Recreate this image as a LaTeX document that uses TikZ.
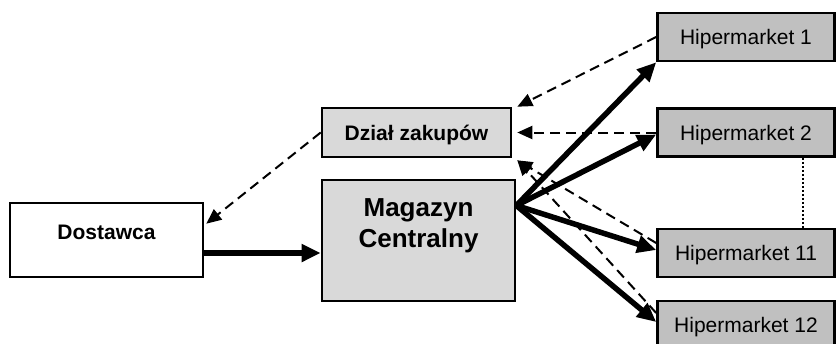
\documentclass[tikz,border=0pt]{standalone}
\usepackage{fontspec}
\setmainfont{Liberation Sans}
\usetikzlibrary{arrows.meta,positioning}
\definecolor{hipgray}{RGB}{192,192,192}
\definecolor{paleg}{RGB}{217,217,217}

\begin{document}
\begin{tikzpicture}[x=1pt,y=-1pt,
  box/.style={draw,line width=2.6pt,inner sep=0pt,text height=15pt,text depth=0pt},
  hiper/.style={box,fill=hipgray,minimum width=177pt,minimum height=48pt,font=\fontsize{21}{25}\selectfont},
  flow/.style={line width=5.5pt,-{Triangle[length=19pt,width=17pt]}},
  info/.style={line width=2pt,dash pattern=on 10pt off 6pt,-{Triangle[length=15pt,width=13pt]}},
  dotline/.style={line width=2.2pt,dash pattern=on 2pt off 2pt}]
\useasboundingbox (0,0) rectangle (837,343);
\node[box,minimum width=193pt,minimum height=74pt,text depth=16pt,font=\bfseries\fontsize{21}{25}\selectfont] (dost) at (106.5,240) {Dostawca};
\node[box,fill=paleg,minimum width=189pt,minimum height=49pt,font=\bfseries\fontsize{21}{25}\selectfont] (dzial) at (416.5,132.5) {Dział zakupów};
\node[box,fill=paleg,minimum width=193pt,minimum height=121pt,align=center,text height=20pt,text depth=7pt,font=\bfseries\fontsize{26}{31}\selectfont] (mag) at (418.5,240.5) {Magazyn\\Centralny};
\node[hiper] (hip1) at (746,37) {Hipermarket 1};
\node[hiper] (hip2) at (746,132.5) {Hipermarket 2};
\node[hiper] (hip11) at (746,253) {Hipermarket 11};
\node[hiper] (hip12) at (746,325) {Hipermarket 12};
\coordinate (hub) at ([yshift=35pt]mag.east);
\coordinate (dz) at ([xshift=5pt,yshift=-2pt]dzial.south east);
\draw[dotline] ([xshift=57pt]hip2.south) -- ([xshift=57pt]hip11.north);
\draw[flow] ([yshift=-13pt]dost.east) -- ([yshift=-13pt]dost.east -| mag.west);
\draw[flow] (hub) -- (hip1.south west);
\draw[flow] (hub) -- ([yshift=-2pt]hip2.west);
\draw[flow] (hub) -- ([yshift=3pt]hip11.west);
\draw[flow] (hub) -- ([yshift=3pt]hip12.west);
\draw[info] (hip1.west) -- ([xshift=5pt]dzial.north east);
\draw[info] (hip2.west) -- ([xshift=5pt]dzial.east);
\draw[info] ([yshift=10pt]hip11.west) -- (dz);
\draw[info] ([yshift=12pt]hip12.west) -- (dz);
\draw[info] (dzial.west) -- ([xshift=2pt,yshift=-22pt]dost.north east);
\end{tikzpicture}
\end{document}
